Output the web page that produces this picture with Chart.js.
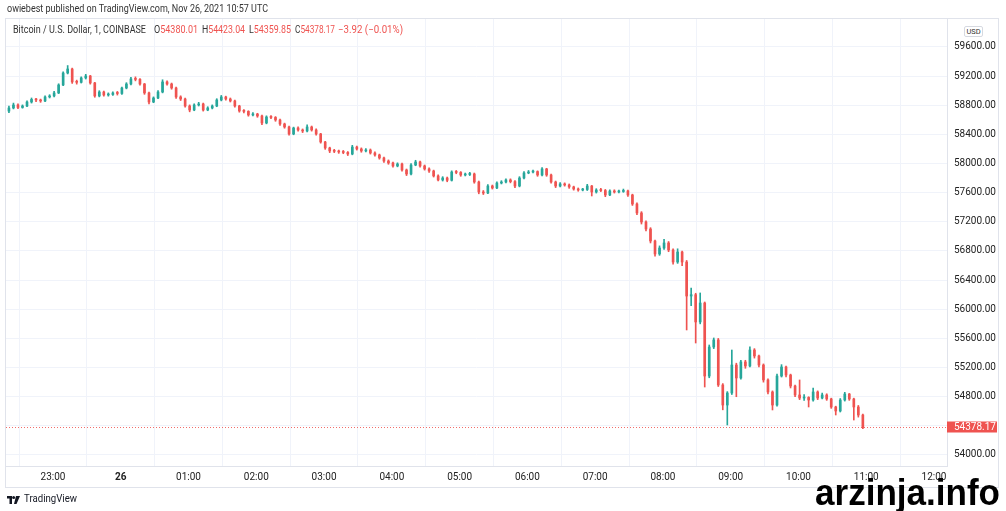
<!DOCTYPE html>
<html><head><meta charset="utf-8">
<script src="https://cdn.jsdelivr.net/npm/chart.js@4.4.0/dist/chart.umd.min.js"></script>
<style>
html,body{margin:0;padding:0;background:#fff;width:1006px;height:511px;overflow:hidden;font-family:Roboto,'Open Sans',sans-serif;}
#wrap{position:relative;width:1006px;height:511px;}
canvas{position:absolute;left:0;top:0;}
.t{position:absolute;white-space:nowrap;transform-origin:0 50%;line-height:1;}
.red{color:#ef5350;}
</style></head><body>
<div id="wrap">
<canvas id="c" width="1006" height="511"></canvas>
<div class="t" data-w="261" style="left:7px;top:3px;font-size:11px;color:#333;">owiebest published on TradingView.com, Nov 26, 2021 10:57 UTC</div>
<div class="t" data-w="133" style="left:13px;top:25px;font-size:10.5px;color:#333;">Bitcoin / U.S. Dollar, 1, COINBASE</div>
<div class="t" data-w="44" style="left:154px;top:25px;font-size:10.5px;color:#333;">O<span class="red">54380.01</span></div>
<div class="t" data-w="43" style="left:202px;top:25px;font-size:10.5px;color:#333;">H<span class="red">54423.04</span></div>
<div class="t" data-w="42" style="left:249px;top:25px;font-size:10.5px;color:#333;">L<span class="red">54359.85</span></div>
<div class="t" data-w="40" style="left:295px;top:25px;font-size:10.5px;color:#333;">C<span class="red">54378.17</span></div>
<div class="t red" data-w="65" style="left:338px;top:25px;font-size:10.5px;">−3.92 (−0.01%)</div>
<div style="position:absolute;left:964px;top:26px;width:17px;height:9px;border:1px solid #d6d9e0;border-radius:2px;font-size:7.5px;line-height:9px;text-align:center;color:#333;background:#fff;">USD</div>
<svg style="position:absolute;left:7px;top:496px;" width="14" height="8" viewBox="0 0 14 8"><path d="M0 0H5V8H2.5V2.5H0Z M9 0H13L9.5 8H7Z" fill="#131722"/><circle cx="6.6" cy="1.6" r="1.5" fill="#131722"/></svg>
<div class="t" data-w="53" style="left:24px;top:494px;font-size:10.5px;color:#131722;">TradingView</div>
<div class="t" data-w="185" style="left:815px;top:475px;font-size:36px;font-weight:bold;color:#000;font-family:'Liberation Sans',Arial,sans-serif;">arzinja.info</div>
</div>
<script>
// ---- data (BTC/USD 1-min chart, sampled every 4 minutes; minutes counted from 22:00 Nov 25) ----
const startMinute = 21;
const candleMinutes = 4;
const firstOpen = 58720;
const close = [58763,58804,58770,58790,58845,58880,58873,58859,58914,58928,
58969,59079,59243,59298,59120,59115,59175,59202,59106,58928,
58982,58941,58948,58969,58962,59037,59092,59161,59155,59092,
58969,58845,58900,58982,59120,59092,59037,58914,58886,58790,
58735,58804,58818,58735,58763,58790,58873,58914,58886,58859,
58790,58722,58716,58667,58680,58653,58557,58639,58633,58598,
58543,58502,58406,58488,58461,58447,58502,58461,58406,58296,
58214,58173,58168,58159,58152,58131,58227,58200,58173,58186,
58145,58118,58077,58035,58008,57967,57994,57912,57857,57980,
58022,57967,57926,57898,57830,57775,57802,57770,57884,57878,
57843,57850,57857,57747,57610,57596,57692,57665,57733,57747,
57775,57752,57692,57802,57871,57884,57890,57843,57926,57843,
57747,57692,57720,57706,57679,57651,57637,57644,57692,57610,
57637,57630,57569,57624,57610,57617,57624,57569,57445,57322,
57198,57102,56937,56759,56841,56910,56814,56649,56786,56649,
56182,56200,55826,56086,55084,55482,55579,54961,54686,54851,
55235,55057,55277,55222,55441,55359,55235,55030,54865,54686,
55084,55208,55098,54947,54824,54782,54790,54755,54865,54782,
54824,54769,54659,54604,54755,54837,54769,54659,54549,54378.17];
const high = [58790,58830,58820,58805,58860,58900,58895,58885,58930,58945,
58990,59095,59260,59345,59310,59145,59190,59225,59210,59115,
59000,58995,58970,58985,58990,59050,59110,59185,59190,59165,
59100,58980,58915,59000,59150,59135,59105,59050,58930,58900,
58805,58820,58840,58830,58780,58805,58890,58935,58925,58900,
58870,58800,58740,58725,58700,58690,58665,58655,58660,58645,
58610,58555,58515,58500,58505,58475,58530,58515,58475,58415,
58305,58225,58195,58185,58180,58165,58250,58240,58215,58205,
58200,58160,58130,58090,58050,58020,58010,58005,57925,58000,
58045,58035,57980,57940,57910,57845,57820,57815,57900,57905,
57890,57870,57880,57870,57760,57630,57710,57705,57750,57765,
57790,57790,57765,57820,57890,57905,57910,57900,57945,57935,
57855,57760,57740,57735,57720,57690,57665,57660,57715,57700,
57655,57660,57645,57640,57640,57635,57650,57635,57580,57460,
57340,57215,57120,56950,56870,56960,56930,56830,56830,56800,
56670,56290,56220,56224,56100,55510,55606,55600,54980,54870,
55441,55260,55300,55300,55486,55460,55370,55250,55045,54880,
55110,55240,55220,55110,54960,55030,54830,54800,54920,54880,
54850,54840,54780,54670,54775,54860,54845,54780,54680,54560];
const low = [58700,58750,58755,58760,58780,58830,58850,58840,58850,58900,
58915,58960,59070,59230,59100,59090,59105,59160,59090,58910,
58915,58925,58925,58935,58940,58950,59025,59080,59135,59075,
58950,58820,58835,58890,58970,59075,59020,58895,58865,58775,
58710,58725,58790,58720,58725,58750,58780,58860,58870,58845,
58775,58705,58695,58650,58655,58635,58535,58545,58615,58580,
58525,58485,58390,58395,58445,58425,58435,58445,58390,58280,
58195,58150,58150,58140,58135,58110,58120,58185,58155,58160,
58130,58100,58060,58015,57990,57950,57955,57895,57835,57845,
57970,57950,57910,57880,57815,57760,57760,57750,57760,57860,
57825,57830,57835,57730,57585,57575,57585,57650,57655,57720,
57735,57735,57670,57680,57790,57860,57870,57825,57830,57825,
57730,57670,57680,57690,57660,57635,57620,57625,57630,57555,
57595,57615,57545,57560,57595,57598,57605,57550,57425,57300,
57170,57075,56910,56730,56740,56820,56790,56620,56630,56600,
55716,56050,55537,55800,54933,55060,55460,54940,54620,54412,
54830,54800,55040,55190,55210,55330,55210,55000,54840,54618,
54670,55070,55070,54920,54800,54760,54750,54659,54740,54760,
54770,54750,54640,54549,54590,54740,54750,54480,54520,54360];
const priceTicks = [54000,54400,54800,55200,55600,56000,56400,56800,57200,57600,58000,58400,58800,59200,59600];
const hourTicks = [60,120,180,240,300,360,420,480,540,600,660,720,780,840];
const hourLabels = ['23:00','26','01:00','02:00','03:00','04:00','05:00','06:00','07:00','08:00','09:00','10:00','11:00','12:00'];

const UP = '#26a69a', DOWN = '#ef5350';
const open = [firstOpen].concat(close.slice(0, -1));
const times = close.map((c, i) => startMinute + candleMinutes * i);
const bodies = close.map((c, i) => ({x: times[i], y: [open[i], c]}));
const wicks = close.map((c, i) => ({x: times[i], y: [low[i], high[i]]}));
const colors = close.map((c, i) => c >= open[i] ? UP : DOWN);
const lastPrice = close[close.length - 1];

const lastPricePlugin = {
  id: 'lastPrice',
  afterDatasetsDraw(chart) {
    const {ctx, chartArea, scales} = chart;
    const y = Math.round(scales.y.getPixelForValue(lastPrice));
    ctx.save();
    ctx.fillStyle = 'rgba(239,83,80,0.85)';
    for (let x = Math.ceil(chartArea.left); x < chartArea.right; x += 3) ctx.fillRect(x, y, 1, 1);
    ctx.restore();
  },
  afterDraw(chart) {
    const {ctx, chartArea, scales} = chart;
    const y = Math.round(scales.y.getPixelForValue(lastPrice));
    ctx.save();
    ctx.fillStyle = DOWN;
    ctx.fillRect(chartArea.right, y - 5.5, 50, 11);
    ctx.fillStyle = '#fff';
    ctx.font = '10px Roboto, sans-serif';
    ctx.textBaseline = 'middle'; ctx.textAlign = 'left';
    ctx.fillText(lastPrice.toFixed(2), chartArea.right + 7, y + 0.5);
    // outer frame
    ctx.strokeStyle = '#e0e3eb'; ctx.lineWidth = 1;
    ctx.strokeRect(5.5, 18.5, 993, 469);
    ctx.restore();
  }
};

new Chart(document.getElementById('c'), {
  type: 'bar',
  data: {datasets: [
    {data: bodies, backgroundColor: colors, barThickness: 2, grouped: false, order: 0, minBarLength: 1, borderWidth: 0},
    {data: wicks, backgroundColor: colors, barThickness: 1, grouped: false, order: 1, borderWidth: 0}
  ]},
  options: {
    responsive: false, animation: false, devicePixelRatio: 1,
    layout: {padding: {left: 6, top: 19, right: 8, bottom: 24}},
    plugins: {legend: {display: false}, tooltip: {enabled: false}},
    scales: {
      x: {
        type: 'linear', min: 18.4, max: 851.5, offset: false,
        grid: {color: '#f0f3fa', drawTicks: false},
        border: {display: true, color: '#e0e3eb'},
        afterBuildTicks: s => { s.ticks = hourTicks.map(v => ({value: v})); },
        afterFit: s => { s.height = 21; },
        ticks: {
          autoSkip: false, maxRotation: 0, padding: 5, color: '#222',
          font: c => ({family: 'Roboto', size: 10, weight: (c.tick && c.tick.value === 120) ? 'bold' : 'normal'}),
          callback: v => hourLabels[hourTicks.indexOf(v)]
        }
      },
      y: {
        position: 'right', min: 53849, max: 59984,
        grid: {color: '#f0f3fa', drawTicks: false},
        border: {display: true, color: '#e0e3eb'},
        afterBuildTicks: s => { s.ticks = priceTicks.map(v => ({value: v})); },
        afterFit: s => { s.width = 51; },
        ticks: {padding: 7, color: '#222', font: {family: 'Roboto', size: 10},
          callback: v => Math.abs(v - lastPrice) < 150 ? '' : Number(v).toFixed(2)}
      }
    }
  },
  plugins: [lastPricePlugin]
});

function fit() {
  document.querySelectorAll('[data-w]').forEach(el => {
    el.style.transform = 'none';
    const w = el.getBoundingClientRect().width;
    el.style.transform = 'scaleX(' + (+el.dataset.w / w) + ')';
  });
}
fit();
if (document.fonts && document.fonts.ready) document.fonts.ready.then(fit);
</script>
</body></html>
